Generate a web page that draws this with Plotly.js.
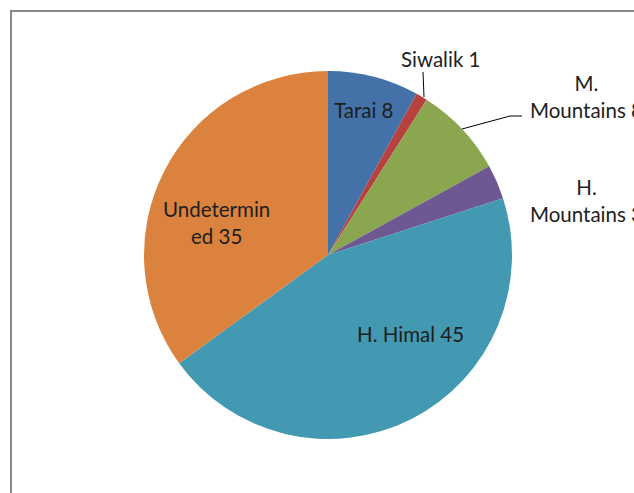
<!DOCTYPE html>
<html>
<head>
<meta charset="utf-8">
<script src="https://cdn.plot.ly/plotly-3.0.1.min.js"></script>
<style>
  body { margin: 0; padding: 0; background: #fff; }
  #chart { width: 634px; height: 493px; }
</style>
</head>
<body>
<div id="chart"></div>
<script>
// regions and their counts, in the order they go round the pie
var regions = ["Tarai", "Siwalik", "M. Mountains", "H. Mountains", "H. Himal", "Undetermined"];
var counts = [8, 1, 8, 3, 45, 35];
// label text as it is wrapped on the chart
var wrapped = ["Tarai", "Siwalik", "M.<br>Mountains", "H.<br>Mountains", "H. Himal", "Undetermin<br>ed"];
var sliceColors = ["#4371a8", "#b6423f", "#8aa74f", "#6e5892", "#4399b1", "#db833e"];

var W = 634, H = 493;
function px(x) { return x / W; }
function py(y) { return 1 - y / H; }

// where each label sits (pixels)
var labelPos = [[364, 110], [440, 59], [586, 96], [586, 201], [410, 334], [216, 223]];

var annotations = [];
for (var i = 0; i < regions.length; i++) {
  annotations.push({
    text: wrapped[i] + " " + counts[i],
    x: px(labelPos[i][0]),
    y: py(labelPos[i][1]),
    xref: "paper",
    yref: "paper",
    xanchor: "center",
    yanchor: "middle",
    showarrow: false,
    font: { family: "Lato, sans-serif", size: 20.5, color: "#1e1e1e" }
  });
}

var shapes = [
  // chart area frame
  {
    type: "rect", xref: "paper", yref: "paper",
    x0: px(11), y0: -0.1, x1: 1.1, y1: py(11),
    line: { color: "#878787", width: 2 }
  },
  // leader lines
  {
    type: "line", xref: "paper", yref: "paper",
    x0: px(423), y0: py(72), x1: px(424), y1: py(97),
    line: { color: "#000", width: 1 }
  },
  {
    type: "path", xref: "paper", yref: "paper",
    path: "M " + px(462) + "," + py(129) + " L " + px(510) + "," + py(116) + " L " + px(522) + "," + py(116),
    line: { color: "#000", width: 1 }
  }
];

Plotly.newPlot(
  "chart",
  [
    {
      type: "pie",
      labels: regions,
      values: counts,
      sort: false,
      direction: "clockwise",
      rotation: 0,
      textinfo: "none",
      hoverinfo: "label+value",
      marker: { colors: sliceColors, line: { width: 0 } },
      domain: { x: [px(144), px(512)], y: [py(439), py(71)] }
    }
  ],
  {
    width: W,
    height: H,
    margin: { l: 0, r: 0, t: 0, b: 0 },
    showlegend: false,
    paper_bgcolor: "#fff",
    annotations: annotations,
    shapes: shapes
  },
  { displayModeBar: false, staticPlot: true }
);
</script>
</body>
</html>
